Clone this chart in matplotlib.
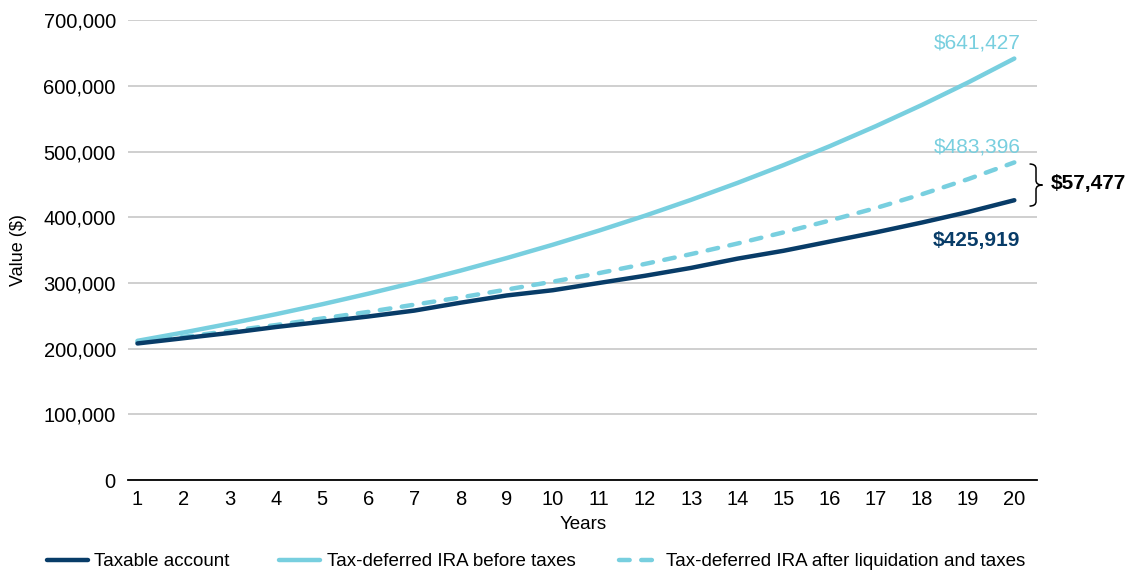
import matplotlib
matplotlib.use("Agg")
import matplotlib.pyplot as plt
from matplotlib.path import Path
from matplotlib.patches import PathPatch
from matplotlib.lines import Line2D
from matplotlib.ticker import FuncFormatter

years = list(range(1, 21))
taxable = [208000, 216000, 224000, 233000, 241000, 249000, 258000, 270000, 281000, 289000,
           300000, 311000, 323000, 337000, 349000, 363000, 377000, 392000, 408000, 425919]
ira_before = [212000, 224700, 238200, 252500, 267600, 283700, 300700, 318800, 337900, 358200,
              379700, 402400, 426600, 452200, 479300, 508100, 538600, 570900, 605100, 641427]
ira_after = [210000, 218000, 227000, 236000, 246000, 256000, 267000, 278000, 290000, 302000,
             315000, 329000, 344000, 360000, 377000, 395000, 414000, 435000, 458000, 483396]
gap_label = "$57,477"

NAVY = "#083c68"
CYAN = "#78cfdf"
DASH = (0, (2.4, 2.6))

plt.rcParams["font.family"] = ["Liberation Sans", "DejaVu Sans"]

fig = plt.figure(figsize=(11.35, 5.73), dpi=100)
ax = fig.add_axes([0.113, 0.162, 0.801, 0.803])

ax.plot(years, ira_before, color=CYAN, lw=3.2, solid_capstyle="round", zorder=3)
ax.plot(years, ira_after, color=CYAN, lw=3.2, linestyle=DASH, dash_capstyle="round", zorder=3)
ax.plot(years, taxable, color=NAVY, lw=3.2, solid_capstyle="round", zorder=4)

ax.set_ylim(0, 700000)
ax.set_xlim(0.8, 20.5)
ax.set_xticks(years)
ax.set_yticks(range(0, 700001, 100000))
ax.yaxis.set_major_formatter(FuncFormatter(lambda v, p: f"{int(v):,}"))
ax.grid(axis="y", color="#cccccc", lw=1.3)
ax.set_axisbelow(True)
for s in ["top", "right", "left"]:
    ax.spines[s].set_visible(False)
ax.spines["bottom"].set_color("black")
ax.spines["bottom"].set_linewidth(1.3)
ax.tick_params(axis="x", length=0, labelsize=14.5, pad=7)
ax.tick_params(axis="y", length=0, labelsize=14.5, pad=9)
ax.set_xlabel("Years", fontsize=13.5, labelpad=5)
ax.set_ylabel("Value ($)", fontsize=13, labelpad=12)

ax.text(20.13, 665000, f"${ira_before[-1]:,}", color=CYAN, fontsize=15, ha="right", va="center")
ax.text(20.13, 507000, f"${ira_after[-1]:,}", color=CYAN, fontsize=15, ha="right", va="center")
ax.text(20.13, 365000, f"${taxable[-1]:,}", color=NAVY, fontsize=15, ha="right", va="center", fontweight="bold")
ax.text(20.78, 451000, gap_label, color="black", fontsize=15, ha="left", va="center", fontweight="bold")

# curly brace between the two end values
x0, w = 20.33, 0.28
yt, yb = 481000, 417000
ym = (yt + yb) / 2
r = 7000
xm = x0 + w * 0.5
verts = [(x0, yt), (xm, yt), (xm, yt - r),
         (xm, ym + r),
         (xm, ym), (x0 + w, ym),
         (xm, ym), (xm, ym - r),
         (xm, yb + r),
         (xm, yb), (x0, yb)]
codes = [Path.MOVETO, Path.CURVE3, Path.CURVE3,
         Path.LINETO,
         Path.CURVE3, Path.CURVE3,
         Path.CURVE3, Path.CURVE3,
         Path.LINETO,
         Path.CURVE3, Path.CURVE3]
ax.add_patch(PathPatch(Path(verts, codes), fill=False, lw=1.1, color="black", clip_on=False))

# legend entries placed one by one
entries = [
    (Line2D([], [], color=NAVY, lw=3.2, solid_capstyle="round"), "Taxable account", 0.041),
    (Line2D([], [], color=CYAN, lw=3.2, solid_capstyle="round"), "Tax-deferred IRA before taxes", 0.246),
    (Line2D([], [], color=CYAN, lw=3.2, linestyle=DASH, dash_capstyle="round"),
     "Tax-deferred IRA after liquidation and taxes", 0.545),
]
for handle, label, xpos in entries:
    fig.legend([handle], [label], loc="center left", bbox_to_anchor=(xpos, 0.02), frameon=False,
               fontsize=13.5, handlelength=2.2, handletextpad=0.35, borderpad=0, borderaxespad=0)

fig.savefig("out.png", dpi=100)
